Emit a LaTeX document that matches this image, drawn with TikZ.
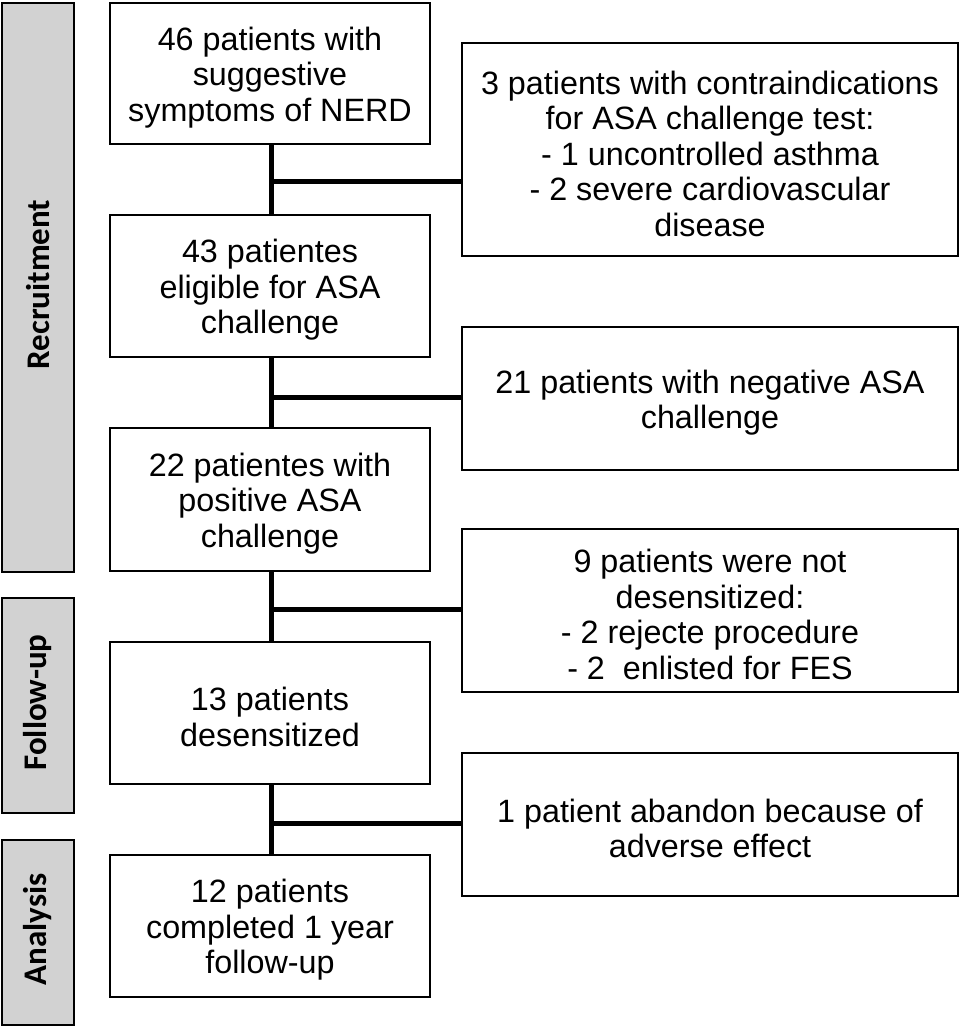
\documentclass[tikz,border=0pt]{standalone}
\usepackage{fontspec}
\setmainfont{Liberation Sans}
\newfontfamily\barfont{Carlito}
\definecolor{bargray}{RGB}{210,210,210}
\begin{document}
\begin{tikzpicture}[x=1pt,y=-1pt,
  boxbase/.style={draw=black, line width=2.7pt, fill=white, inner sep=0pt},
  mainbox/.style={boxbase, minimum width=320pt},
  sidebox/.style={boxbase, minimum width=496pt},
  boxtext/.style={align=center, inner sep=0pt, yshift=-4pt,
    font=\fontsize{32.3}{35.5}\selectfont},
  phasebar/.style={draw=black, line width=2.7pt, fill=bargray,
    minimum width=72pt, inner sep=0pt},
  phaselabel/.style={rotate=90, xshift=3pt, font=\barfont\bfseries\fontsize{33}{38}\selectfont},
  conn/.style={line width=5pt}]
\useasboundingbox (0,0) rectangle (961,1027);

% phase bars
\node[phasebar, minimum height=569pt] (pr) at (38,287.5) {};
\node[phaselabel] (prl) at (pr.center) {Recruitment};
\node[phasebar, minimum height=215pt] (pf) at (38,705.5) {};
\node[phaselabel] (pfl) at (pf.center) {Follow-up};
\node[phasebar, minimum height=185pt] (pa) at (38,932.5) {};
\node[phaselabel] (pal) at (pa.center) {Analysis};

\coordinate (j1) at (271,182);
\coordinate (j2) at (271,397);
\coordinate (j3) at (271,609);
\coordinate (j4) at (271,823);

% main column
\node[mainbox, minimum height=141pt] (b1) at (270,73.5) {};
\node[boxtext] (b1t) at (b1.center) {46 patients with\\suggestive\\symptoms of NERD};
\node[mainbox, minimum height=142pt] (b2) at (270,286) {};
\node[boxtext] (b2t) at (b2.center) {43 patientes\\eligible for ASA\\challenge};
\node[mainbox, minimum height=143pt] (b3) at (270,499.5) {};
\node[boxtext] (b3t) at (b3.center) {22 patientes with\\positive ASA\\challenge};
\node[mainbox, minimum height=142pt] (b4) at (270,713) {};
\node[boxtext] (b4t) at (b4.center) {13 patients\\desensitized};
\node[mainbox, minimum height=142pt] (b5) at (270,926) {};
\node[boxtext] (b5t) at (b5.center) {12 patients\\completed 1 year\\follow-up};

% side boxes
\node[sidebox, minimum height=213pt] (r1) at (710,149.5) {};
\node[boxtext] (r1t) at (r1.center) {3 patients with contraindications\\for ASA challenge test:\\- 1 uncontrolled asthma\\- 2 severe cardiovascular\\disease};
\node[sidebox, minimum height=143pt] (r2) at (710,398.5) {};
\node[boxtext] (r2t) at (r2.center) {21 patients with negative ASA\\challenge};
\node[sidebox, minimum height=163pt] (r3) at (710,610.5) {};
\node[boxtext] (r3t) at (r3.center) {9 patients were not\\desensitized:\\- 2 rejecte procedure\\- 2\ \ enlisted for FES};
\node[sidebox, minimum height=143pt] (r4) at (710,824.5) {};
\node[boxtext] (r4t) at (r4.center) {1 patient abandon because of\\adverse effect};

% connectors
\draw[conn] (b1.south -| j1) -- (b2.north -| j1);
\draw[conn] (b2.south -| j2) -- (b3.north -| j2);
\draw[conn] (b3.south -| j3) -- (b4.north -| j3);
\draw[conn] (b4.south -| j4) -- (b5.north -| j4);
\draw[conn] (j1) -- (j1 -| r1.west);
\draw[conn] (j2) -- (j2 -| r2.west);
\draw[conn] (j3) -- (j3 -| r3.west);
\draw[conn] (j4) -- (j4 -| r4.west);
\end{tikzpicture}
\end{document}
